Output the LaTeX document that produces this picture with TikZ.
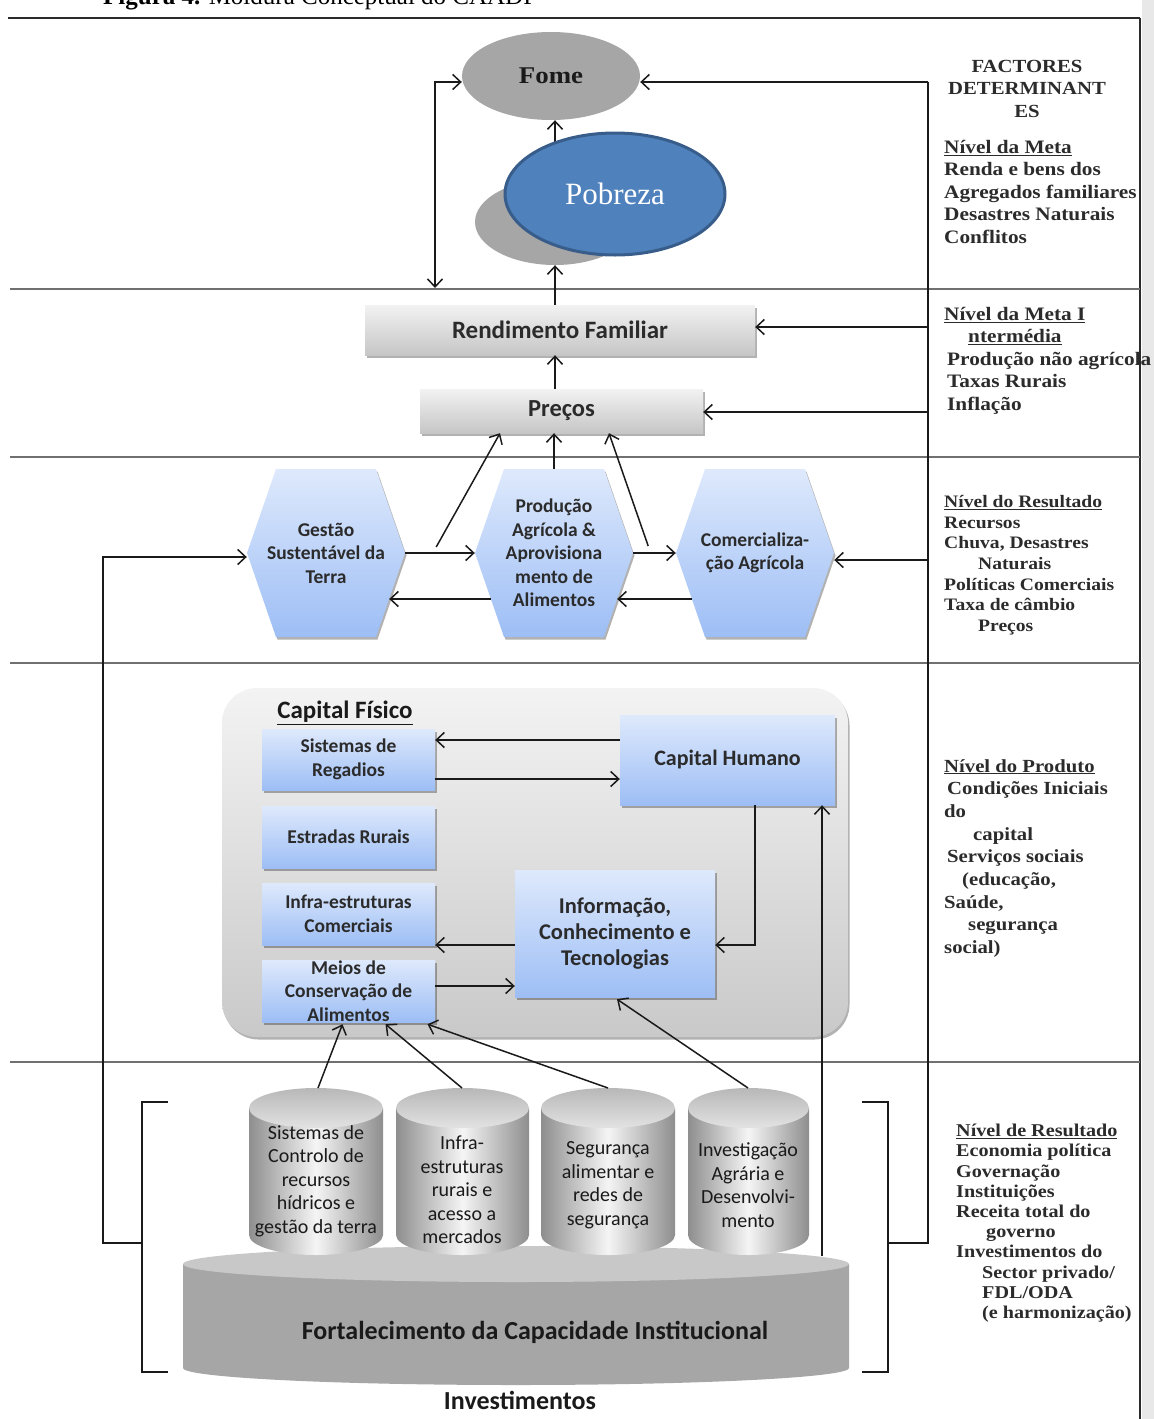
\documentclass[tikz,border=0pt]{standalone}
\usepackage{fontspec}
\setmainfont{Liberation Serif}
\newfontfamily\calfont{Carlito}
\newfontfamily\rserif[FakeStretch=1.12]{Liberation Serif}
\usetikzlibrary{shapes.geometric,arrows.meta,shadows,calc}
\definecolor{linec}{HTML}{1A1A1A}
\definecolor{divc}{HTML}{707070}
\definecolor{framec}{HTML}{2A2A2A}
\definecolor{stripc}{HTML}{E8E8E8}
\definecolor{ellgray}{HTML}{A6A6A6}
\definecolor{pobblue}{HTML}{4F81BD}
\definecolor{pobborder}{HTML}{385D8A}
\definecolor{gbtop}{HTML}{F2F2F2}
\definecolor{gbbot}{HTML}{C6C6C6}
\definecolor{bltop}{HTML}{DEE9FC}
\definecolor{blbot}{HTML}{9DBEF5}
\definecolor{captop}{HTML}{F3F3F3}
\definecolor{capbot}{HTML}{C9C9C9}
\definecolor{txtc}{HTML}{2B2B2B}
\definecolor{cyledge}{HTML}{8E8E8E}
\definecolor{cylmid}{HTML}{F5F5F5}
\definecolor{cyltopa}{HTML}{B8B8B8}
\definecolor{cyltopb}{HTML}{E2E2E2}
\definecolor{bigbody}{HTML}{A6A6A6}
\definecolor{bigtop}{HTML}{C8C8C8}
\begin{document}
\begin{tikzpicture}[x=1pt,y=-1pt,
  arr/.style={draw=linec, line width=1.5pt, -{Straight Barb[length=8pt,width=15pt]}},
  dblarr/.style={draw=linec, line width=1.5pt, {Straight Barb[length=8pt,width=15pt]}-{Straight Barb[length=8pt,width=15pt]}},
  plainline/.style={draw=linec, line width=1.6pt},
  divider/.style={draw=divc, line width=2pt},
  shad/.style={drop shadow={shadow xshift=1.5pt, shadow yshift=-2.5pt, opacity=0.3, fill=black}},
  graybox/.style={rectangle, top color=gbtop, bottom color=gbbot, shad, inner sep=0pt, text=txtc,
     font=\calfont\bfseries\fontsize{25}{28}\selectfont},
  bluebox/.style={rectangle, top color=bltop, bottom color=blbot, shad, inner sep=0pt, align=center, text=txtc,
     font=\calfont\bfseries\fontsize{19.5}{23.5}\selectfont},
  hexshade/.style={top color=bltop, bottom color=blbot, shad},
  hextxt/.style={minimum width=158, minimum height=168, inner sep=0pt, align=center, text=txtc,
     font=\calfont\bfseries\fontsize{19.5}{23.5}\selectfont},
  cyltxt/.style={align=center, inner sep=0pt, text=linec, font=\calfont\fontsize{20}{23.5}\selectfont},
  cylbody/.style={left color=cyledge, right color=cyledge, middle color=cylmid},
  cyltop/.style={top color=cyltopa, bottom color=cyltopb},
  rtxt/.style={anchor=north west, align=left, inner sep=0pt, text=txtc},
  brk/.style={draw=linec, line width=1.6pt}
]
\useasboundingbox (0,0) rectangle (1154,1419);
% page strip and frame
\fill[stripc] (1142,0) rectangle (1154,1419);
\node[anchor=base west, inner sep=0pt, font=\fontsize{25}{25}\selectfont] (cap) at (103,4) {\textbf{Figura 4.} Moldura Conceptual do CAADP};
\draw[draw=framec, line width=2.5pt] (8,18) -- (1140,18);
\draw[draw=framec, line width=2pt] (1140,18) -- (1140,1419);
\foreach \yy in {289,457,663,1062} \draw[divider] (10,\yy) -- (1140,\yy);

% coordinates on connector lines
\coordinate (r1) at (928,82);
\coordinate (r2) at (928,327);
\coordinate (r3) at (928,412);
\coordinate (r4) at (928,560);
\coordinate (rbot) at (928,1243);
\coordinate (brR) at (888,1243);
\coordinate (brL) at (142,1243);
\coordinate (lbot) at (103,1243);
\coordinate (ltop) at (103,557);
\coordinate (ld) at (435,288);
\coordinate (lu) at (435,82);

% top ellipses
\node[ellipse, fill=ellgray, minimum width=178, minimum height=88, inner sep=0pt,
      font=\rserif\bfseries\fontsize{24}{24}\selectfont, text=linec] (fome) at (551,76) {Fome};
\node[ellipse, fill=ellgray, minimum width=160, minimum height=86, inner sep=0pt] (pobg) at (555,222) {};

% level boxes
\node[graybox, minimum width=390, minimum height=50] (rend) at (560,330) {Rendimento Familiar};
\node[graybox, minimum width=283, minimum height=44, font=\calfont\bfseries\fontsize{24.5}{28}\selectfont] (prec) at (561.5,411) {Preços};

% hexagons
\shade[hexshade] (247,553) -- (276,469) -- (376,469) -- (405,553) -- (376,637) -- (276,637) -- cycle;
\shade[hexshade] (475,553) -- (504,469) -- (604,469) -- (633,553) -- (604,637) -- (504,637) -- cycle;
\shade[hexshade] (676,553) -- (705,469) -- (805,469) -- (834,553) -- (805,637) -- (705,637) -- cycle;
\node[hextxt] (gst) at (326,553) {Gestão\\Sustentável da\\Terra};
\node[hextxt] (prod) at (554,553) {Produção\\Agrícola \&\\Aprovisiona\\mento de\\Alimentos};
\node[hextxt] (com) at (755,553) {Comercializa-\\ção Agrícola};

% capital region
\node[rectangle, rounded corners=35pt, top color=captop, bottom color=capbot, shad,
      minimum width=626, minimum height=349, inner sep=0pt] (capreg) at (535,862.5) {};
\node[inner sep=0pt, text=linec, font=\calfont\bfseries\fontsize{25}{28}\selectfont] (capt) at (345,713) {\underline{Capital Físico}};
\node[bluebox, minimum width=173, minimum height=61] (sis) at (348.5,759.5) {Sistemas de\\Regadios};
\node[bluebox, minimum width=173, minimum height=62] (est) at (348.5,837) {Estradas Rurais};
\node[bluebox, minimum width=173, minimum height=62] (inf) at (348.5,914) {Infra-estruturas\\Comerciais};
\node[bluebox, minimum width=173, minimum height=62] (mei) at (348.5,991) {Meios de\\Conservação de\\Alimentos};
\node[bluebox, minimum width=215, minimum height=90, font=\calfont\bfseries\fontsize{22}{26}\selectfont] (hum) at (727.5,760) {Capital Humano};
\node[bluebox, minimum width=200, minimum height=127, font=\calfont\bfseries\fontsize{22.5}{26}\selectfont] (ict) at (615,933.5) {Informação,\\Conhecimento e\\Tecnologias};

% big cylinder
\fill[bigbody] (183,1264) -- (183,1368) arc[start angle=180, end angle=360, x radius=333pt, y radius=17pt] -- (849,1264) -- cycle;
\fill[bigtop] (516,1264) ellipse[x radius=333pt, y radius=18pt];
\node[inner sep=0pt, text=linec, font=\calfont\bfseries\fontsize{26}{28}\selectfont] (fort) at (535,1332) {Fortalecimento da Capacidade Institucional};
\coordinate (fortop) at (822,1256);

% small cylinders
\shade[cylbody] (249,1108) -- (249,1235) arc[start angle=180, end angle=360, x radius=67pt, y radius=20pt] -- (383,1108) -- cycle;
\shade[cyltop] (316,1108) ellipse[x radius=67pt, y radius=20pt];
\shade[cylbody] (396,1108) -- (396,1235) arc[start angle=180, end angle=360, x radius=66.5pt, y radius=20pt] -- (529,1108) -- cycle;
\shade[cyltop] (462.5,1108) ellipse[x radius=66.5pt, y radius=20pt];
\shade[cylbody] (541,1108) -- (541,1235) arc[start angle=180, end angle=360, x radius=67pt, y radius=20pt] -- (675,1108) -- cycle;
\shade[cyltop] (608,1108) ellipse[x radius=67pt, y radius=20pt];
\shade[cylbody] (688,1108) -- (688,1235) arc[start angle=180, end angle=360, x radius=60.5pt, y radius=20pt] -- (809,1108) -- cycle;
\shade[cyltop] (748.5,1108) ellipse[x radius=60.5pt, y radius=20pt];
\coordinate (c1t) at (318,1088);
\coordinate (c2t) at (462,1088);
\coordinate (c3t) at (608,1088);
\coordinate (c4t) at (748,1088);
\node[cyltxt] (cyl1) at (316,1181) {Sistemas de\\Controlo de\\recursos\\hídricos e\\gestão da terra};
\node[cyltxt] (cyl2) at (462,1190) {Infra-\\estruturas\\rurais e\\acesso a\\mercados};
\node[cyltxt] (cyl3) at (608,1185) {Segurança\\alimentar e\\redes de\\segurança};
\node[cyltxt] (cyl4) at (748,1185) {Investigação\\Agrária e\\Desenvolvi-\\mento};
\node[inner sep=0pt, text=linec, font=\calfont\bfseries\fontsize{26}{28}\selectfont] (inv) at (520,1400) {Investimentos};

% brackets
\draw[brk] (168,1102) -- (142,1102) -- (142,1372) -- (168,1372);
\draw[brk] (862,1102) -- (888,1102) -- (888,1372) -- (862,1372);

% connectors: right side
\draw[plainline] (r1) -- (rbot) -- (brR);
\draw[arr] (r1) -- (fome.east |- r1);
\draw[arr] (r2) -- (rend.east |- r2);
\draw[arr] (r3) -- (prec.east |- r3);
\draw[arr] (r4) -- (com.east |- r4);
% left side
\draw[arr] (brL) -- (lbot) -- (ltop) -- (gst.west |- ltop);
\draw[dblarr] (ld) -- (lu) -- (fome.west |- lu);
% vertical chain
\draw[arr] (pobg.north) -- (pobg.north |- fome.south);
\draw[arr] ($(rend.north)+(-5,0)$) -- (pobg.south);
\draw[arr] ($(prec.north)+(-6.5,0)$) -- ($(rend.south)+(-5,0)$);
\draw[arr] (prod.north) -- (prod.north |- prec.south);
\draw[arr] ($(gst.east)+(31,-6)$) -- ($(prec.south)+(-61.5,0)$);
\draw[arr] ($(prod.east)+(15,-7)$) -- ($(prec.south)+(47.5,0)$);
% hexagon row
\draw[arr] (gst.east) -- (prod.west);
\draw[arr] ($(prod.west)+(16,46)$) -- ($(gst.east)+(-16,46)$);
\draw[arr] (prod.east) -- (com.west);
\draw[arr] ($(com.west)+(16,46)$) -- ($(prod.east)+(-16,46)$);
% capital region
\draw[arr] (hum.west |- 0,740) -- (sis.east |- 0,740);
\draw[arr] (sis.east |- 0,779) -- (hum.west |- 0,779);
\draw[arr] ($(hum.south)+(27.5,0)$) |- (ict.east |- 0,945);
\draw[arr] (ict.west |- 0,945) -- (inf.east |- 0,945);
\draw[arr] (mei.east |- 0,986) -- (ict.west |- 0,986);
\draw[arr] (fortop) -- (fortop |- hum.south);
\draw[arr] (c1t) -- ($(mei.south)+(-6,2)$);
\draw[arr] (c2t) -- ($(mei.south)+(37,2)$);
\draw[arr] (c3t) -- ($(mei.south)+(79,2)$);
\draw[arr] (c4t) -- ($(ict.south)+(2,2)$);

% Pobreza on top
\node[ellipse, fill=pobblue, draw=pobborder, line width=3pt, minimum width=220, minimum height=122, inner sep=0pt,
      text=white, font=\fontsize{31}{31}\selectfont] (pob) at (615,194) {Pobreza};

% right-hand texts
\node[anchor=north, align=center, inner sep=0pt, text=txtc, font=\rserif\bfseries\fontsize{18.5}{22.5}\selectfont] (rt0) at (1027,60) {FACTORES\\DETERMINANT\\ES};
\node[rtxt, font=\rserif\bfseries\fontsize{19}{22.5}\selectfont] (rt1) at (944,140) {\underline{Nível da Meta}\\Renda e bens dos\\Agregados familiares\\Desastres Naturais\\Conflitos};
\node[rtxt, font=\rserif\bfseries\fontsize{19}{22.5}\selectfont] (rt2) at (944,307) {\underline{Nível da Meta I}\\\hspace*{24pt}\underline{ntermédia}\\\hspace*{3pt}Produção não agrícola\\\hspace*{3pt}Taxas Rurais\\\hspace*{3pt}Inflação};
\node[rtxt, font=\rserif\bfseries\fontsize{17.5}{20.7}\selectfont] (rt3) at (944,495) {\underline{Nível do Resultado}\\Recursos\\Chuva, Desastres\\\hspace*{34pt}Naturais\\Políticas Comerciais\\Taxa de câmbio\\\hspace*{34pt}Preços};
\node[rtxt, font=\rserif\bfseries\fontsize{18.5}{22.7}\selectfont] (rt4) at (944,759) {\underline{Nível do Produto}\\\hspace*{3pt}Condições Iniciais\\do\\\hspace*{29pt}capital\\\hspace*{3pt}Serviços sociais\\\hspace*{18pt}(educação,\\Saúde,\\\hspace*{24pt}segurança\\social)};
\node[rtxt, font=\rserif\bfseries\fontsize{18}{20.2}\selectfont] (rt5) at (956,1124) {\underline{Nível de Resultado}\\Economia política\\Governação\\Instituições\\Receita total do\\\hspace*{30pt}governo\\Investimentos do\\\hspace*{26pt}Sector privado/\\\hspace*{26pt}FDL/ODA\\\hspace*{26pt}(e harmonização)};
\end{tikzpicture}
\end{document}
